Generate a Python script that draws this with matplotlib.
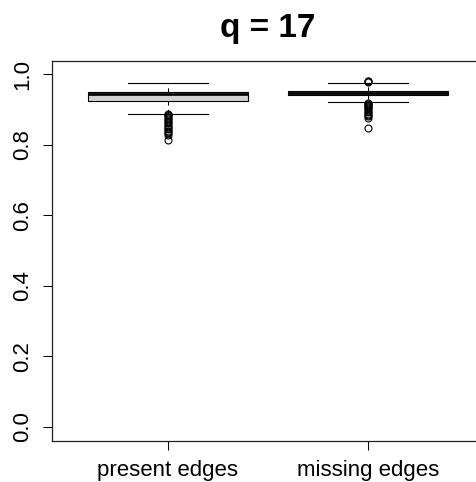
import matplotlib
matplotlib.use("Agg")
import matplotlib.pyplot as plt

plt.rcParams['font.family'] = ['Liberation Sans', 'DejaVu Sans']

# data
groups = ["present edges", "missing edges"]
whis_lo = [0.8875, 0.9207]
q1 = [0.924, 0.9410]
median = [0.944, 0.947]
q3 = [0.950, 0.9530]
whis_hi = [0.9745, 0.9745]
outliers_present = [0.888, 0.884, 0.880, 0.876, 0.872, 0.868, 0.864, 0.860, 0.856,
                    0.852, 0.848, 0.844, 0.840, 0.836, 0.832, 0.826, 0.812]
outliers_missing = [0.981, 0.979, 0.977, 0.919, 0.916, 0.913, 0.910, 0.907, 0.904,
                    0.900, 0.896, 0.892, 0.888, 0.884, 0.880, 0.876, 0.848]
fill_colors = ["#d3d3d3", "#6b8e9b"]

stats = []
for i, name in enumerate(groups):
    stats.append(dict(label=name, whislo=whis_lo[i], q1=q1[i], med=median[i],
                      q3=q3[i], whishi=whis_hi[i],
                      fliers=[outliers_present, outliers_missing][i]))

fig = plt.figure(figsize=(4.77, 4.82), dpi=100)
ax = fig.add_axes([52/477, 41/482, 432/477, 380/482])

bp = ax.bxp(stats, positions=[1, 2], widths=0.8, patch_artist=True,
            boxprops=dict(linewidth=0.8, edgecolor="black"),
            medianprops=dict(color="black", linewidth=1.9),
            whiskerprops=dict(color="black", linewidth=0.75, linestyle=(0, (4, 4))),
            capprops=dict(color="black", linewidth=0.8),
            capwidths=0.4,
            flierprops=dict(marker="o", markersize=5, markerfacecolor="none",
                            markeredgecolor="black", markeredgewidth=0.8))
for patch, c in zip(bp["boxes"], fill_colors):
    patch.set_facecolor(c)

ax.set_xlim(0.42, 2.58)
ax.set_ylim(-0.04, 1.037)
ax.set_yticks([0.0, 0.2, 0.4, 0.6, 0.8, 1.0])
ax.set_yticklabels(["0.0", "0.2", "0.4", "0.6", "0.8", "1.0"], rotation=90, va="center")
ax.set_xticks([1, 2])
ax.set_xticklabels(groups)
ax.tick_params(labelsize=16, length=6.5, width=0.75, pad=7)

for s in ax.spines.values():
    s.set_linewidth(0.9)
    s.set_color("#222222")

ax.set_title("q = 17", fontsize=24, fontweight="bold", pad=17)

fig.savefig("out.png", dpi=100)
